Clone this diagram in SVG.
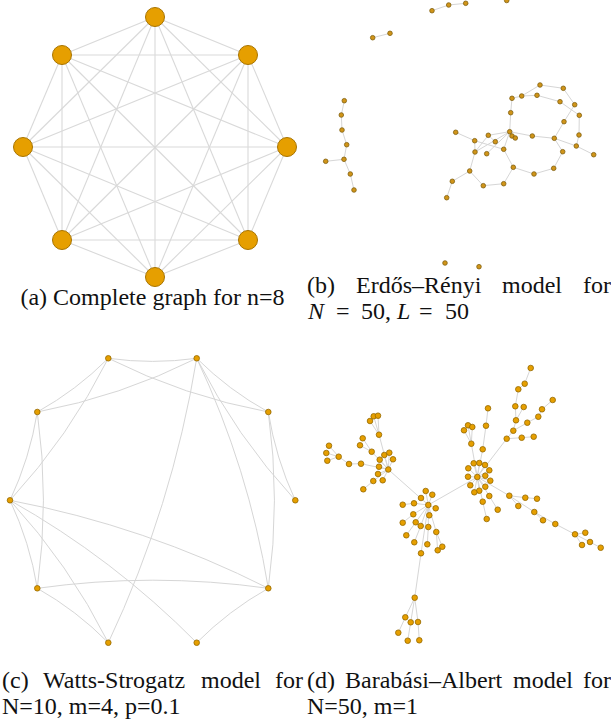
<svg xmlns="http://www.w3.org/2000/svg" width="611" height="721" viewBox="0 0 611 721">
<style>
.bg{fill:#ffffff}
.ea{stroke:#d9d9d9;stroke-width:1.1;fill:none}
.e{stroke:#d6d6d6;stroke-width:1;fill:none}
.na circle{fill:#E69F00;stroke:#a87400;stroke-width:1}
.nb circle{fill:#d09418;stroke:#80600f;stroke-width:0.8}
.nc circle{fill:#E69F00;stroke:#946800;stroke-width:0.8}
.nd circle{fill:#E69F00;stroke:#946800;stroke-width:0.8}
.cap{font-family:"Liberation Serif","Times New Roman",serif;font-size:24px;fill:#111}
</style>
<rect class="bg" x="0" y="0" width="611" height="721"/>

<!-- (a) complete graph -->
<g id="edges-a" class="ea">
<line x1="155" y1="17" x2="248" y2="55"/><line x1="155" y1="17" x2="287" y2="147"/><line x1="155" y1="17" x2="248" y2="240"/><line x1="155" y1="17" x2="155" y2="277"/><line x1="155" y1="17" x2="62" y2="240"/><line x1="155" y1="17" x2="23" y2="147"/><line x1="155" y1="17" x2="62" y2="55"/>
<line x1="248" y1="55" x2="287" y2="147"/><line x1="248" y1="55" x2="248" y2="240"/><line x1="248" y1="55" x2="155" y2="277"/><line x1="248" y1="55" x2="62" y2="240"/><line x1="248" y1="55" x2="23" y2="147"/><line x1="248" y1="55" x2="62" y2="55"/>
<line x1="287" y1="147" x2="248" y2="240"/><line x1="287" y1="147" x2="155" y2="277"/><line x1="287" y1="147" x2="62" y2="240"/><line x1="287" y1="147" x2="23" y2="147"/><line x1="287" y1="147" x2="62" y2="55"/>
<line x1="248" y1="240" x2="155" y2="277"/><line x1="248" y1="240" x2="62" y2="240"/><line x1="248" y1="240" x2="23" y2="147"/><line x1="248" y1="240" x2="62" y2="55"/>
<line x1="155" y1="277" x2="62" y2="240"/><line x1="155" y1="277" x2="23" y2="147"/><line x1="155" y1="277" x2="62" y2="55"/>
<line x1="62" y1="240" x2="23" y2="147"/><line x1="62" y1="240" x2="62" y2="55"/>
<line x1="23" y1="147" x2="62" y2="55"/>
</g>
<g id="a0" class="na"><circle cx="155" cy="17" r="9.5"/></g>
<g id="a1" class="na"><circle cx="248" cy="55" r="9.5"/></g>
<g id="a2" class="na"><circle cx="287" cy="147" r="9.5"/></g>
<g id="a3" class="na"><circle cx="248" cy="240" r="9.5"/></g>
<g id="a4" class="na"><circle cx="155" cy="277" r="9.5"/></g>
<g id="a5" class="na"><circle cx="62" cy="240" r="9.5"/></g>
<g id="a6" class="na"><circle cx="23" cy="147" r="9.5"/></g>
<g id="a7" class="na"><circle cx="62" cy="55" r="9.5"/></g>

<!-- (b) Erdos-Renyi -->
<g id="edges-b" class="e">
<line x1="432" y1="10.7" x2="448.7" y2="5"/><line x1="448.7" y1="5" x2="465.7" y2="3.3"/>
<line x1="372.7" y1="37.7" x2="390" y2="33.3"/>
<line x1="344.3" y1="100.7" x2="341.3" y2="115"/><line x1="341.3" y1="115" x2="342" y2="130"/><line x1="342" y1="130" x2="346.7" y2="144.7"/><line x1="346.7" y1="144.7" x2="344" y2="159.3"/><line x1="344" y1="159.3" x2="325.7" y2="161.3"/><line x1="344" y1="159.3" x2="350.3" y2="174"/><line x1="350.3" y1="174" x2="354" y2="190"/>
<line x1="540" y1="85" x2="563.3" y2="88.3"/><line x1="563.3" y1="88.3" x2="574.7" y2="104.7"/><line x1="540" y1="85" x2="521.7" y2="96"/><line x1="512" y1="98.3" x2="521.7" y2="96"/><line x1="521.7" y1="96" x2="537" y2="95.3"/><line x1="512" y1="98.3" x2="510.7" y2="112.7"/><line x1="510.7" y1="112.7" x2="509.7" y2="131.7"/><line x1="537" y1="95.3" x2="560" y2="101.7"/><line x1="560" y1="101.7" x2="579.3" y2="115.3"/><line x1="574.7" y1="104.7" x2="564" y2="121.7"/><line x1="579.3" y1="115.3" x2="579" y2="135"/><line x1="579" y1="135" x2="576.3" y2="146"/><line x1="564" y1="121.7" x2="554.3" y2="138.3"/><line x1="554.3" y1="138.3" x2="576.3" y2="146"/><line x1="576.3" y1="146" x2="593.7" y2="154.7"/><line x1="554.3" y1="138.3" x2="562.7" y2="151.7"/><line x1="562.7" y1="151.7" x2="553.7" y2="168.3"/><line x1="553.7" y1="168.3" x2="534" y2="174"/><line x1="534" y1="174" x2="513.3" y2="167.3"/><line x1="513.3" y1="167.3" x2="503.7" y2="149.3"/><line x1="503.7" y1="149.3" x2="509.7" y2="131.7"/><line x1="509.7" y1="131.7" x2="532.3" y2="136"/><line x1="532.3" y1="136" x2="554.3" y2="138.3"/><line x1="509.7" y1="131.7" x2="512" y2="136"/><line x1="512" y1="136" x2="515.3" y2="138"/><line x1="509.7" y1="131.7" x2="488.3" y2="135.3"/><line x1="509.7" y1="131.7" x2="486.7" y2="153.7"/><line x1="509.7" y1="131.7" x2="475" y2="152"/><line x1="488.3" y1="135.3" x2="475" y2="152"/><line x1="488.3" y1="135.3" x2="495.3" y2="141.7"/><line x1="455.7" y1="132.3" x2="474.7" y2="140.7"/><line x1="474.7" y1="140.7" x2="503.7" y2="149.3"/><line x1="474.7" y1="140.7" x2="475" y2="152"/><line x1="475" y1="152" x2="469.7" y2="171"/><line x1="469.7" y1="171" x2="452.3" y2="181.3"/><line x1="452.3" y1="181.3" x2="446.7" y2="197.7"/><line x1="469.7" y1="171" x2="483.3" y2="185.7"/><line x1="483.3" y1="185.7" x2="503.7" y2="183.7"/><line x1="503.7" y1="183.7" x2="513.3" y2="167.3"/>
</g>
<g id="b1" class="nb"><circle cx="432" cy="10.7" r="2.3"/></g>
<g id="b2" class="nb"><circle cx="448.7" cy="5" r="2.3"/></g>
<g id="b3" class="nb"><circle cx="465.7" cy="3.3" r="2.3"/></g>
<g id="b4" class="nb"><circle cx="506.7" cy="0.5" r="2.3"/></g>
<g id="b5" class="nb"><circle cx="372.7" cy="37.7" r="2.3"/></g>
<g id="b6" class="nb"><circle cx="390" cy="33.3" r="2.3"/></g>
<g id="b7" class="nb"><circle cx="344.3" cy="100.7" r="2.3"/></g>
<g id="b8" class="nb"><circle cx="341.3" cy="115" r="2.3"/></g>
<g id="b9" class="nb"><circle cx="342" cy="130" r="2.3"/></g>
<g id="b10" class="nb"><circle cx="346.7" cy="144.7" r="2.3"/></g>
<g id="b11" class="nb"><circle cx="344" cy="159.3" r="2.3"/></g>
<g id="b12" class="nb"><circle cx="325.7" cy="161.3" r="2.3"/></g>
<g id="b13" class="nb"><circle cx="350.3" cy="174" r="2.3"/></g>
<g id="b14" class="nb"><circle cx="354" cy="190" r="2.3"/></g>
<g id="b15" class="nb"><circle cx="445" cy="263" r="2.3"/></g>
<g id="b16" class="nb"><circle cx="479" cy="266.7" r="2.3"/></g>
<g id="bn1" class="nb"><circle cx="540" cy="85" r="2.3"/></g>
<g id="bn2" class="nb"><circle cx="563.3" cy="88.3" r="2.3"/></g>
<g id="bn3" class="nb"><circle cx="512" cy="98.3" r="2.3"/></g>
<g id="bn4" class="nb"><circle cx="521.7" cy="96" r="2.3"/></g>
<g id="bn5" class="nb"><circle cx="537" cy="95.3" r="2.3"/></g>
<g id="bn6" class="nb"><circle cx="560" cy="101.7" r="2.3"/></g>
<g id="bn7" class="nb"><circle cx="574.7" cy="104.7" r="2.3"/></g>
<g id="bn8" class="nb"><circle cx="579.3" cy="115.3" r="2.3"/></g>
<g id="bn9" class="nb"><circle cx="510.7" cy="112.7" r="2.3"/></g>
<g id="bn10" class="nb"><circle cx="564" cy="121.7" r="2.3"/></g>
<g id="bn11" class="nb"><circle cx="455.7" cy="132.3" r="2.3"/></g>
<g id="bn12" class="nb"><circle cx="509.7" cy="131.7" r="2.3"/></g>
<g id="bn13" class="nb"><circle cx="512" cy="136" r="2.3"/></g>
<g id="bn14" class="nb"><circle cx="515.3" cy="138" r="2.3"/></g>
<g id="bn15" class="nb"><circle cx="532.3" cy="136" r="2.3"/></g>
<g id="bn16" class="nb"><circle cx="554.3" cy="138.3" r="2.3"/></g>
<g id="bn17" class="nb"><circle cx="579" cy="135" r="2.3"/></g>
<g id="bn18" class="nb"><circle cx="488.3" cy="135.3" r="2.3"/></g>
<g id="bn19" class="nb"><circle cx="474.7" cy="140.7" r="2.3"/></g>
<g id="bn20" class="nb"><circle cx="495.3" cy="141.7" r="2.3"/></g>
<g id="bn21" class="nb"><circle cx="576.3" cy="146" r="2.3"/></g>
<g id="bn22" class="nb"><circle cx="593.7" cy="154.7" r="2.3"/></g>
<g id="bn23" class="nb"><circle cx="475" cy="152" r="2.3"/></g>
<g id="bn24" class="nb"><circle cx="486.7" cy="153.7" r="2.3"/></g>
<g id="bn25" class="nb"><circle cx="503.7" cy="149.3" r="2.3"/></g>
<g id="bn26" class="nb"><circle cx="562.7" cy="151.7" r="2.3"/></g>
<g id="bn27" class="nb"><circle cx="513.3" cy="167.3" r="2.3"/></g>
<g id="bn28" class="nb"><circle cx="553.7" cy="168.3" r="2.3"/></g>
<g id="bn29" class="nb"><circle cx="534" cy="174" r="2.3"/></g>
<g id="bn30" class="nb"><circle cx="469.7" cy="171" r="2.3"/></g>
<g id="bn31" class="nb"><circle cx="452.3" cy="181.3" r="2.3"/></g>
<g id="bn32" class="nb"><circle cx="483.3" cy="185.7" r="2.3"/></g>
<g id="bn33" class="nb"><circle cx="503.7" cy="183.7" r="2.3"/></g>
<g id="bn34" class="nb"><circle cx="446.7" cy="197.7" r="2.3"/></g>

<!-- (c) Watts-Strogatz -->
<g id="edges-c" class="e">
<path d="M295.3,500.3 Q275.6,458.1 268.3,412"/>
<path d="M268.3,412 Q228.7,390.2 196.7,358.3"/>
<path d="M196.7,358.3 Q152.5,364.5 108.3,358.3"/>
<path d="M108.3,358.3 Q76.6,390.1 37.3,412"/>
<path d="M37.3,412 Q29.8,458.1 10,500.3"/>
<path d="M10,500.3 Q29.8,542.4 37.3,588.3"/>
<path d="M37.3,588.3 Q76.6,610.5 108.3,642.7"/>
<path d="M196.7,642.7 Q228.7,610.5 268.3,588.3"/>
<path d="M295.3,500.3 Q236.1,436.2 196.7,358.3"/>
<path d="M268.3,412 Q184.5,396.4 108.3,358.3"/>
<path d="M196.7,358.3 Q120.8,396.3 37.3,412"/>
<path d="M108.3,358.3 Q69.1,436.2 10,500.3"/>
<path d="M37.3,412 Q49.6,500.2 37.3,588.3"/>
<path d="M10,500.3 Q69.1,564.6 108.3,642.7"/>
<path d="M268.3,412 Q280.6,500.2 268.3,588.3"/>
<path d="M196.7,358.3 Q248.6,468.3 268.3,588.3"/>
<path d="M196.7,358.3 Q172.4,506.7 108.3,642.7"/>
<path d="M10,500.3 Q145.3,526.2 268.3,588.3"/>
<path d="M10,500.3 Q113.3,558.4 196.7,642.7"/>
<path d="M37.3,588.3 Q152.8,572.1 268.3,588.3"/>
</g>
<g id="c0" class="nc"><circle cx="295.3" cy="500.3" r="2.8"/></g>
<g id="c1" class="nc"><circle cx="268.3" cy="412" r="2.8"/></g>
<g id="c2" class="nc"><circle cx="196.7" cy="358.3" r="2.8"/></g>
<g id="c3" class="nc"><circle cx="108.3" cy="358.3" r="2.8"/></g>
<g id="c4" class="nc"><circle cx="37.3" cy="412" r="2.8"/></g>
<g id="c5" class="nc"><circle cx="10" cy="500.3" r="2.8"/></g>
<g id="c6" class="nc"><circle cx="37.3" cy="588.3" r="2.8"/></g>
<g id="c7" class="nc"><circle cx="108.3" cy="642.7" r="2.8"/></g>
<g id="c8" class="nc"><circle cx="196.7" cy="642.7" r="2.8"/></g>
<g id="c9" class="nc"><circle cx="268.3" cy="588.3" r="2.8"/></g>

<!-- (d) Barabasi-Albert -->
<g id="edges-d" class="e">
<line x1="388.3" y1="469.5" x2="428.3" y2="505"/><line x1="428.3" y1="505" x2="477.3" y2="477"/>
<line x1="477.3" y1="477" x2="506.7" y2="438.7"/><line x1="506.7" y1="438.7" x2="513.3" y2="430.7"/><line x1="506.7" y1="438.7" x2="521.7" y2="437.7"/><line x1="521.7" y1="437.7" x2="533.7" y2="436.7"/><line x1="513.3" y1="430.7" x2="516" y2="420.3"/><line x1="516" y1="420.3" x2="515.3" y2="406.3"/><line x1="515.3" y1="406.3" x2="518.3" y2="389.3"/><line x1="518.3" y1="389.3" x2="524.7" y2="383.7"/><line x1="524.7" y1="383.7" x2="530.7" y2="368"/><line x1="516" y1="420.3" x2="523.7" y2="407"/><line x1="513.3" y1="430.7" x2="527.3" y2="422.7"/><line x1="527.3" y1="422.7" x2="538.3" y2="416.7"/><line x1="538.3" y1="416.7" x2="542" y2="409.3"/><line x1="542" y1="409.3" x2="552.7" y2="400"/>
<line x1="477.3" y1="477" x2="482.7" y2="449.3"/><line x1="482.7" y1="449.3" x2="486" y2="425.7"/><line x1="486" y1="425.7" x2="488" y2="408.3"/><line x1="477.3" y1="477" x2="471.3" y2="443.7"/><line x1="471.3" y1="443.7" x2="468" y2="425.3"/><line x1="471.3" y1="443.7" x2="472.3" y2="427"/><line x1="471.3" y1="443.7" x2="464" y2="430.3"/>
<line x1="477.3" y1="477" x2="468.3" y2="468.3"/><line x1="477.3" y1="477" x2="473.7" y2="463.3"/><line x1="477.3" y1="477" x2="479.3" y2="463"/><line x1="477.3" y1="477" x2="485" y2="465"/><line x1="477.3" y1="477" x2="489.3" y2="470.3"/><line x1="477.3" y1="477" x2="485.3" y2="475.7"/><line x1="477.3" y1="477" x2="490.3" y2="480.7"/><line x1="477.3" y1="477" x2="468" y2="476.7"/><line x1="477.3" y1="477" x2="470.3" y2="485.3"/><line x1="477.3" y1="477" x2="485.3" y2="486.7"/><line x1="477.3" y1="477" x2="479.3" y2="490.7"/><line x1="477.3" y1="477" x2="474.3" y2="492.3"/><line x1="477.3" y1="477" x2="489.3" y2="496"/><line x1="489.3" y1="496" x2="497.7" y2="509.7"/><line x1="477.3" y1="477" x2="482.7" y2="501.7"/><line x1="482.7" y1="501.7" x2="486.7" y2="519"/>
<line x1="477.3" y1="477" x2="509.3" y2="495.7"/><line x1="509.3" y1="495.7" x2="525.3" y2="497.7"/><line x1="525.3" y1="497.7" x2="537" y2="498.7"/><line x1="509.3" y1="495.7" x2="518.3" y2="506"/><line x1="509.3" y1="495.7" x2="534.3" y2="512"/><line x1="534.3" y1="512" x2="543" y2="520.3"/><line x1="534.3" y1="512" x2="555.3" y2="524"/><line x1="555.3" y1="524" x2="575" y2="534.3"/><line x1="575" y1="534.3" x2="585.3" y2="532.7"/><line x1="575" y1="534.3" x2="582" y2="545"/><line x1="575" y1="534.3" x2="590" y2="542"/><line x1="590" y1="542" x2="600.7" y2="547.7"/>
<line x1="428.3" y1="505" x2="425.7" y2="491"/><line x1="428.3" y1="505" x2="432.3" y2="494.7"/><line x1="428.3" y1="505" x2="421" y2="498"/><line x1="428.3" y1="505" x2="414" y2="503.3"/><line x1="414" y1="503.3" x2="402.7" y2="504.7"/><line x1="428.3" y1="505" x2="435.7" y2="508.3"/><line x1="428.3" y1="505" x2="413.3" y2="514.3"/><line x1="413.3" y1="514.3" x2="402.7" y2="522.7"/><line x1="428.3" y1="505" x2="429.3" y2="515.3"/><line x1="428.3" y1="505" x2="415.7" y2="522.3"/><line x1="415.7" y1="522.3" x2="406.3" y2="535.3"/><line x1="428.3" y1="505" x2="420.7" y2="526"/><line x1="420.7" y1="526" x2="414.3" y2="542.3"/><line x1="428.3" y1="505" x2="428.3" y2="527"/><line x1="428.3" y1="527" x2="427.3" y2="544.3"/><line x1="428.3" y1="505" x2="436.3" y2="532"/><line x1="436.3" y1="532" x2="437.7" y2="550.3"/><line x1="436.3" y1="532" x2="442.3" y2="546.7"/><line x1="428.3" y1="505" x2="421" y2="553.3"/>
<line x1="421" y1="553.3" x2="414.7" y2="597.7"/><line x1="414.7" y1="597.7" x2="405.3" y2="617.3"/><line x1="405.3" y1="617.3" x2="398.3" y2="632.7"/><line x1="414.7" y1="597.7" x2="410.7" y2="622.3"/><line x1="410.7" y1="622.3" x2="407.7" y2="640.7"/><line x1="414.7" y1="597.7" x2="418" y2="622"/><line x1="418" y1="622" x2="419.3" y2="640.3"/>
<line x1="388.3" y1="469.5" x2="379" y2="434.7"/><line x1="379" y1="434.7" x2="370" y2="421"/><line x1="379" y1="434.7" x2="373.7" y2="416.3"/><line x1="379" y1="434.7" x2="378" y2="415.7"/><line x1="388.3" y1="469.5" x2="371.7" y2="451.7"/><line x1="371.7" y1="451.7" x2="362.7" y2="438.3"/><line x1="371.7" y1="451.7" x2="360" y2="445.3"/><line x1="388.3" y1="469.5" x2="384.3" y2="455"/><line x1="388.3" y1="469.5" x2="389.3" y2="452.7"/><line x1="388.3" y1="469.5" x2="393" y2="459.3"/><line x1="388.3" y1="469.5" x2="379.7" y2="459.7"/><line x1="388.3" y1="469.5" x2="379" y2="466.7"/><line x1="388.3" y1="469.5" x2="378" y2="474"/><line x1="388.3" y1="469.5" x2="382.7" y2="480.3"/><line x1="388.3" y1="469.5" x2="373.3" y2="481"/><line x1="373.3" y1="481" x2="363.3" y2="489.3"/><line x1="388.3" y1="469.5" x2="361" y2="463.7"/><line x1="361" y1="463.7" x2="349" y2="464"/><line x1="349" y1="464" x2="338.7" y2="456.7"/><line x1="338.7" y1="456.7" x2="329" y2="445.7"/><line x1="338.7" y1="456.7" x2="326.3" y2="453"/><line x1="338.7" y1="456.7" x2="327.3" y2="460.7"/>
</g>
<g id="d-h2" class="nd"><circle cx="477.3" cy="477" r="2.8"/></g>
<g id="d-h3" class="nd"><circle cx="428.3" cy="505" r="2.8"/></g>
<g id="d-h4" class="nd"><circle cx="388.3" cy="469.5" r="2.8"/></g>
<g id="d-t1" class="nd"><circle cx="530.7" cy="368" r="2.8"/></g>
<g id="d-t2" class="nd"><circle cx="524.7" cy="383.7" r="2.8"/></g>
<g id="d-t3" class="nd"><circle cx="518.3" cy="389.3" r="2.8"/></g>
<g id="d-t4" class="nd"><circle cx="552.7" cy="400" r="2.8"/></g>
<g id="d-t5" class="nd"><circle cx="515.3" cy="406.3" r="2.8"/></g>
<g id="d-t6" class="nd"><circle cx="523.7" cy="407" r="2.8"/></g>
<g id="d-t7" class="nd"><circle cx="542" cy="409.3" r="2.8"/></g>
<g id="d-t8" class="nd"><circle cx="488" cy="408.3" r="2.8"/></g>
<g id="d-t9" class="nd"><circle cx="516" cy="420.3" r="2.8"/></g>
<g id="d-t10" class="nd"><circle cx="538.3" cy="416.7" r="2.8"/></g>
<g id="d-t11" class="nd"><circle cx="527.3" cy="422.7" r="2.8"/></g>
<g id="d-t12" class="nd"><circle cx="513.3" cy="430.7" r="2.8"/></g>
<g id="d-t13" class="nd"><circle cx="506.7" cy="438.7" r="2.8"/></g>
<g id="d-t14" class="nd"><circle cx="521.7" cy="437.7" r="2.8"/></g>
<g id="d-t15" class="nd"><circle cx="533.7" cy="436.7" r="2.8"/></g>
<g id="d-t16" class="nd"><circle cx="486" cy="425.7" r="2.8"/></g>
<g id="d-t17" class="nd"><circle cx="468" cy="425.3" r="2.8"/></g>
<g id="d-t18" class="nd"><circle cx="472.3" cy="427" r="2.8"/></g>
<g id="d-t19" class="nd"><circle cx="464" cy="430.3" r="2.8"/></g>
<g id="d-t20" class="nd"><circle cx="471.3" cy="443.7" r="2.8"/></g>
<g id="d-t21" class="nd"><circle cx="482.7" cy="449.3" r="2.8"/></g>
<g id="d-h2a" class="nd"><circle cx="468.3" cy="468.3" r="2.8"/></g>
<g id="d-h2b" class="nd"><circle cx="473.7" cy="463.3" r="2.8"/></g>
<g id="d-h2c" class="nd"><circle cx="479.3" cy="463" r="2.8"/></g>
<g id="d-h2d" class="nd"><circle cx="485" cy="465" r="2.8"/></g>
<g id="d-h2e" class="nd"><circle cx="489.3" cy="470.3" r="2.8"/></g>
<g id="d-h2f" class="nd"><circle cx="485.3" cy="475.7" r="2.8"/></g>
<g id="d-h2g" class="nd"><circle cx="490.3" cy="480.7" r="2.8"/></g>
<g id="d-h2h" class="nd"><circle cx="468" cy="476.7" r="2.8"/></g>
<g id="d-h2i" class="nd"><circle cx="470.3" cy="485.3" r="2.8"/></g>
<g id="d-h2j" class="nd"><circle cx="485.3" cy="486.7" r="2.8"/></g>
<g id="d-h2k" class="nd"><circle cx="479.3" cy="490.7" r="2.8"/></g>
<g id="d-h2l" class="nd"><circle cx="474.3" cy="492.3" r="2.8"/></g>
<g id="d-h2m" class="nd"><circle cx="489.3" cy="496" r="2.8"/></g>
<g id="d-h2n" class="nd"><circle cx="497.7" cy="509.7" r="2.8"/></g>
<g id="d-h2o" class="nd"><circle cx="482.7" cy="501.7" r="2.8"/></g>
<g id="d-h2p" class="nd"><circle cx="486.7" cy="519" r="2.8"/></g>
<g id="d-r1" class="nd"><circle cx="509.3" cy="495.7" r="2.8"/></g>
<g id="d-r2" class="nd"><circle cx="525.3" cy="497.7" r="2.8"/></g>
<g id="d-r3" class="nd"><circle cx="537" cy="498.7" r="2.8"/></g>
<g id="d-r4" class="nd"><circle cx="518.3" cy="506" r="2.8"/></g>
<g id="d-r5" class="nd"><circle cx="534.3" cy="512" r="2.8"/></g>
<g id="d-r6" class="nd"><circle cx="543" cy="520.3" r="2.8"/></g>
<g id="d-r7" class="nd"><circle cx="555.3" cy="524" r="2.8"/></g>
<g id="d-r8" class="nd"><circle cx="575" cy="534.3" r="2.8"/></g>
<g id="d-r9" class="nd"><circle cx="585.3" cy="532.7" r="2.8"/></g>
<g id="d-r10" class="nd"><circle cx="582" cy="545" r="2.8"/></g>
<g id="d-r11" class="nd"><circle cx="590" cy="542" r="2.8"/></g>
<g id="d-r12" class="nd"><circle cx="600.7" cy="547.7" r="2.8"/></g>
<g id="d-h3a" class="nd"><circle cx="425.7" cy="491" r="2.8"/></g>
<g id="d-h3b" class="nd"><circle cx="432.3" cy="494.7" r="2.8"/></g>
<g id="d-h3c" class="nd"><circle cx="421" cy="498" r="2.8"/></g>
<g id="d-h3d" class="nd"><circle cx="414" cy="503.3" r="2.8"/></g>
<g id="d-h3e" class="nd"><circle cx="402.7" cy="504.7" r="2.8"/></g>
<g id="d-h3f" class="nd"><circle cx="435.7" cy="508.3" r="2.8"/></g>
<g id="d-h3g" class="nd"><circle cx="413.3" cy="514.3" r="2.8"/></g>
<g id="d-h3h" class="nd"><circle cx="429.3" cy="515.3" r="2.8"/></g>
<g id="d-h3i" class="nd"><circle cx="402.7" cy="522.7" r="2.8"/></g>
<g id="d-h3j" class="nd"><circle cx="415.7" cy="522.3" r="2.8"/></g>
<g id="d-h3k" class="nd"><circle cx="420.7" cy="526" r="2.8"/></g>
<g id="d-h3l" class="nd"><circle cx="428.3" cy="527" r="2.8"/></g>
<g id="d-h3m" class="nd"><circle cx="436.3" cy="532" r="2.8"/></g>
<g id="d-h3n" class="nd"><circle cx="406.3" cy="535.3" r="2.8"/></g>
<g id="d-h3o" class="nd"><circle cx="414.3" cy="542.3" r="2.8"/></g>
<g id="d-h3p" class="nd"><circle cx="427.3" cy="544.3" r="2.8"/></g>
<g id="d-h3q" class="nd"><circle cx="437.7" cy="550.3" r="2.8"/></g>
<g id="d-h3r" class="nd"><circle cx="442.3" cy="546.7" r="2.8"/></g>
<g id="d-h3s" class="nd"><circle cx="421" cy="553.3" r="2.8"/></g>
<g id="d-u1" class="nd"><circle cx="414.7" cy="597.7" r="2.8"/></g>
<g id="d-u2" class="nd"><circle cx="405.3" cy="617.3" r="2.8"/></g>
<g id="d-u3" class="nd"><circle cx="410.7" cy="622.3" r="2.8"/></g>
<g id="d-u4" class="nd"><circle cx="418" cy="622" r="2.8"/></g>
<g id="d-u5" class="nd"><circle cx="398.3" cy="632.7" r="2.8"/></g>
<g id="d-u6" class="nd"><circle cx="407.7" cy="640.7" r="2.8"/></g>
<g id="d-u7" class="nd"><circle cx="419.3" cy="640.3" r="2.8"/></g>
<g id="d-v1" class="nd"><circle cx="370" cy="421" r="2.8"/></g>
<g id="d-v2" class="nd"><circle cx="373.7" cy="416.3" r="2.8"/></g>
<g id="d-v3" class="nd"><circle cx="378" cy="415.7" r="2.8"/></g>
<g id="d-v4" class="nd"><circle cx="379" cy="434.7" r="2.8"/></g>
<g id="d-v5" class="nd"><circle cx="362.7" cy="438.3" r="2.8"/></g>
<g id="d-v6" class="nd"><circle cx="360" cy="445.3" r="2.8"/></g>
<g id="d-v7" class="nd"><circle cx="371.7" cy="451.7" r="2.8"/></g>
<g id="d-v8" class="nd"><circle cx="384.3" cy="455" r="2.8"/></g>
<g id="d-v9" class="nd"><circle cx="389.3" cy="452.7" r="2.8"/></g>
<g id="d-v10" class="nd"><circle cx="393" cy="459.3" r="2.8"/></g>
<g id="d-v11" class="nd"><circle cx="379.7" cy="459.7" r="2.8"/></g>
<g id="d-v12" class="nd"><circle cx="379" cy="466.7" r="2.8"/></g>
<g id="d-v13" class="nd"><circle cx="378" cy="474" r="2.8"/></g>
<g id="d-v14" class="nd"><circle cx="382.7" cy="480.3" r="2.8"/></g>
<g id="d-v15" class="nd"><circle cx="373.3" cy="481" r="2.8"/></g>
<g id="d-v16" class="nd"><circle cx="363.3" cy="489.3" r="2.8"/></g>
<g id="d-v17" class="nd"><circle cx="361" cy="463.7" r="2.8"/></g>
<g id="d-v18" class="nd"><circle cx="349" cy="464" r="2.8"/></g>
<g id="d-v19" class="nd"><circle cx="338.7" cy="456.7" r="2.8"/></g>
<g id="d-v20" class="nd"><circle cx="329" cy="445.7" r="2.8"/></g>
<g id="d-v21" class="nd"><circle cx="326.3" cy="453" r="2.8"/></g>
<g id="d-v22" class="nd"><circle cx="327.3" cy="460.7" r="2.8"/></g>

<!-- captions -->
<g id="captions" class="cap">
<text x="152.5" y="305" text-anchor="middle">(a) Complete graph for n=8</text>
<text y="293"><tspan x="307">(b)</tspan><tspan x="356">Erdős–Rényi</tspan><tspan x="502">model</tspan><tspan x="583">for</tspan></text>
<text y="319"><tspan x="308" font-style="italic">N</tspan><tspan x="336">=</tspan><tspan x="361">50,</tspan><tspan x="397" font-style="italic">L</tspan><tspan x="419">=</tspan><tspan x="445">50</tspan></text>
<text y="688"><tspan x="2">(c)</tspan><tspan x="43">Watts-Strogatz</tspan><tspan x="201">model</tspan><tspan x="275">for</tspan></text>
<text x="2" y="714">N=10, m=4, p=0.1</text>
<text y="688"><tspan x="307">(d)</tspan><tspan x="345">Barabási–Albert</tspan><tspan x="513">model</tspan><tspan x="583">for</tspan></text>
<text x="307" y="714">N=50, m=1</text>
</g>
</svg>
